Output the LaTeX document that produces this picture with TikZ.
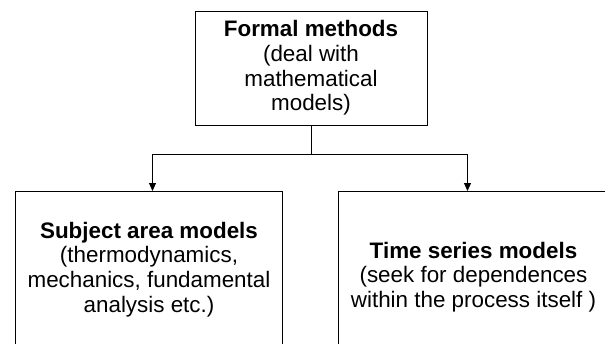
\documentclass[tikz,border=0pt]{standalone}
\usepackage{fontspec}
\setmainfont{Liberation Sans}
\usetikzlibrary{arrows.meta}
\tikzset{
  box/.style={draw=black, line width=1pt, inner sep=0pt, align=center,
    font=\fontsize{22.4}{24.6}\selectfont},
  link/.style={draw=black, line width=1pt},
  arrowlink/.style={link, -{Triangle[width=7pt,length=8pt]}}
}
\begin{document}
\begin{tikzpicture}[x=1pt,y=-1pt]
  \useasboundingbox (0,0) rectangle (605,343);
  % root of the classification
  \node[box, minimum width=232pt, minimum height=114pt] (formal) at (311,68)
    {\textbf{Formal methods}\\(deal with\\mathematical\\models)};
  % the two branches (their lower parts run past the page edge)
  \node[box, minimum width=267pt, minimum height=156pt, anchor=north west] (subject) at (15,191)
    {\textbf{Subject area models}\\(thermodynamics,\\mechanics, fundamental\\analysis etc.)};
  \node[box, minimum width=270pt, minimum height=171pt, anchor=north west] (series) at (338,191)
    {\textbf{Time series models}\\(seek for dependences\\within the process itself )};
  % branching connector
  \coordinate (split) at (311,154);
  \draw[link] (formal.south) -- (split);
  \draw[arrowlink] (split) -| ([xshift=3.5pt]subject.north);
  \draw[arrowlink] (split) -| ([xshift=-6pt]series.north);
\end{tikzpicture}
\end{document}
